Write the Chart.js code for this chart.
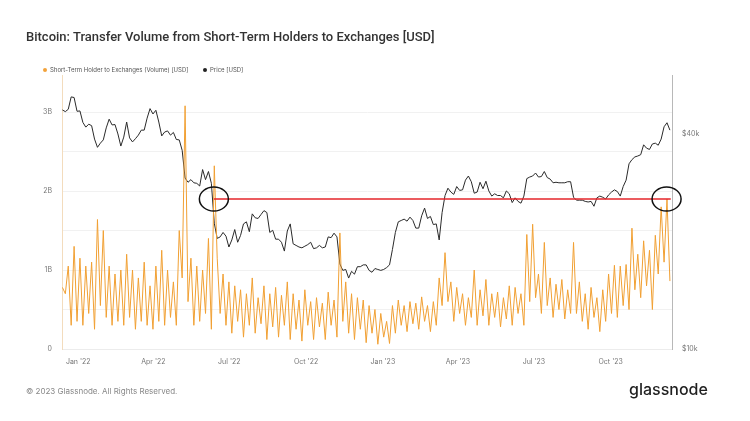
<!DOCTYPE html>
<html><head><meta charset="utf-8">
<script src="https://cdn.jsdelivr.net/npm/chart.js@4.4.0/dist/chart.umd.min.js"></script>
<style>
html,body{margin:0;padding:0;background:#fff;}
#wrap{position:relative;width:750px;height:421px;overflow:hidden;font-family:Inter,'Noto Sans',sans-serif;background:#fff;}
#c{position:absolute;left:0;top:0;}
.title{position:absolute;left:26px;top:28px;font-family:Roboto,Inter,sans-serif;font-size:13px;line-height:18px;font-weight:500;color:#333;white-space:nowrap;}
.leg{position:absolute;top:66px;font-size:6px;line-height:7px;color:#555;white-space:nowrap;}
.dot{display:inline-block;width:4px;height:4px;border-radius:50%;margin-right:3px;vertical-align:0px;}
.foot{position:absolute;left:26px;top:386px;font-size:8px;line-height:11px;color:#888;white-space:nowrap;}
.logo{position:absolute;left:629px;top:380px;font-size:16px;line-height:18px;font-weight:500;color:#1f1f1f;white-space:nowrap;}
</style></head>
<body>
<div id="wrap">
<canvas id="c" width="750" height="421"></canvas>
<div class="title">Bitcoin: Transfer Volume from Short-Term Holders to Exchanges [USD]</div>
<div class="leg" style="left:43px"><span class="dot" style="background:#f2a23a"></span>Short-Term Holder to Exchanges (Volume) [USD]</div>
<div class="leg" style="left:203px"><span class="dot" style="background:#222"></span>Price [USD]</div>
<div class="foot">© 2023 Glassnode. All Rights Reserved.</div>
<div class="logo">glassnode</div>
</div>
<script>
// ---- data: one value every 3.5 days, days counted from 1 Jan 2022 ----
const startDay = -19;
const stepDays = 3.5;
const volumeBn = [
0.78,0.70,1.05,0.30,1.30,0.35,1.15,0.30,1.05,0.45,1.10,0.25,1.64,0.55,1.50,0.40,1.05,0.30,0.95,0.35,
1.00,0.30,1.20,0.40,1.00,0.25,0.90,0.35,1.10,0.30,0.80,0.25,1.05,0.35,1.25,0.30,1.00,0.40,0.85,0.30,
1.50,0.90,3.08,0.60,1.15,0.30,1.05,0.35,1.00,0.45,1.40,0.25,2.32,1.15,0.45,0.95,0.30,0.85,0.20,0.80,
0.35,0.75,0.15,0.70,0.30,0.90,0.20,0.65,0.32,0.80,0.12,0.70,0.28,0.78,0.15,0.68,0.30,0.85,0.12,0.70,
0.25,0.62,0.10,0.75,0.30,0.60,0.12,0.65,0.28,0.58,0.12,0.72,0.30,0.62,0.15,1.47,0.35,0.85,0.20,0.70,
0.12,0.65,0.25,0.62,0.08,0.55,0.20,0.50,0.06,0.45,0.15,0.35,0.07,0.55,0.20,0.62,0.30,0.55,0.22,0.60,
0.32,0.58,0.25,0.66,0.35,0.55,0.22,0.60,0.30,0.90,0.55,1.22,0.60,0.85,0.35,0.78,0.45,0.70,0.30,0.65,
0.40,1.00,0.30,0.75,0.42,0.88,0.30,0.70,0.40,0.72,0.28,0.65,0.38,0.80,0.30,0.78,0.45,0.70,0.30,1.45,
0.60,1.58,0.65,0.95,0.45,1.35,0.55,0.90,0.40,0.82,0.50,0.88,0.38,0.75,0.45,1.35,0.45,0.85,0.35,0.70,
0.25,0.78,0.40,0.65,0.22,0.75,0.35,0.95,0.45,1.06,0.40,1.05,0.55,1.07,0.50,1.53,0.75,1.20,0.65,1.37,
0.80,1.25,0.50,1.44,0.95,1.80,1.10,1.90,0.86
];
const priceUsdK = [
// Dec 2021
46.7,46.2,46.9,50.8,50.6,46.3,
// 2022
46.4,43.1,41.8,42.6,42.2,38.7,36.7,37.7,38.5,41.6,
44.0,42.4,42.5,40.0,37.0,39.2,43.2,39.0,
38.0,38.8,39.7,41.0,41.0,44.3,47.1,45.5,
46.6,43.2,39.5,40.5,40.8,39.7,40.4,38.6,
38.5,36.0,30.1,29.3,29.8,29.2,29.1,28.6,31.8,29.8,
31.4,29.1,22.5,20.4,20.6,21.2,20.7,19.3,
20.2,21.6,19.9,20.8,22.4,22.7,21.3,23.9,
23.3,23.2,23.8,24.4,24.1,21.2,21.5,20.3,20.3,19.9,
18.8,21.4,22.4,19.7,19.5,19.3,19.2,19.4,
19.6,19.9,19.1,19.2,19.5,19.2,19.3,20.6,20.5,21.1,
20.6,17.3,16.6,16.7,15.8,16.5,16.2,17.0,
17.0,17.2,17.2,16.6,16.4,16.8,16.7,16.6,
// 2023
16.7,16.9,17.2,19.0,21.2,22.7,22.9,23.1,22.8,23.4,
22.9,21.8,21.8,23.6,24.8,23.2,23.5,22.3,
22.4,20.2,24.1,26.9,28.2,27.5,27.1,28.5,
27.8,27.9,29.7,30.5,29.4,27.3,27.5,29.3,
28.1,29.5,27.7,26.8,27.2,26.9,26.9,26.5,27.7,27.2,
25.7,26.5,25.9,25.6,26.8,30.0,30.3,30.5,
31.1,30.3,30.4,31.4,30.2,29.9,29.2,29.3,29.2,29.2,
29.2,29.4,29.4,26.6,26.1,26.1,26.1,25.9,
25.8,25.9,25.1,26.5,26.8,26.6,26.3,27.0,
27.5,27.9,27.6,26.8,28.5,29.7,33.0,33.9,34.5,34.7,
35.0,37.3,36.5,36.2,37.5,37.7,37.2,38.7,
41.9,43.0,41.0
];
const xTickDates = ['2022-01-01','2022-04-01','2022-07-01','2022-10-01','2023-01-01','2023-04-01','2023-07-01','2023-10-01'];
const xTickLabels = ["Jan '22","Apr '22","Jul '22","Oct '22","Jan '23","Apr '23","Jul '23","Oct '23"];
const volGridBn = [0,0.5,1,1.5,2,2.5,3];
const volTickBn = [0,1,2,3];
const volTickLabels = ['0','1B','2B','3B'];
const priceTickUsd = [10000,40000];
const priceTickLabels = ['$10k','$40k'];
// annotation (data units): red level line and two circled points
const redLine = {fromDay:162.5, toDay:710, levelBn:1.90};
const circles = [{day:162.5, levelBn:1.90},{day:705, levelBn:1.90}];

const dayOf = s => (Date.parse(s+'T00:00:00Z') - Date.UTC(2022,0,1))/86400000;
const volPts = volumeBn.map((v,i)=>({x:startDay+i*stepDays, y:v}));
const pricePts = priceUsdK.map((v,i)=>({x:startDay+i*stepDays, y:v*1000}));

const tickFont = {family:"Inter, 'Noto Sans', sans-serif", size:7};
const annot = {
  id:'annot',
  afterDatasetsDraw(chart){
    const ctx = chart.ctx, x = chart.scales.x, y = chart.scales.yVol;
    ctx.save();
    ctx.strokeStyle = '#e4252a'; ctx.lineWidth = 1.6;
    ctx.beginPath();
    ctx.moveTo(x.getPixelForValue(redLine.fromDay), y.getPixelForValue(redLine.levelBn));
    ctx.lineTo(x.getPixelForValue(redLine.toDay), y.getPixelForValue(redLine.levelBn));
    ctx.stroke();
    ctx.strokeStyle = '#111'; ctx.lineWidth = 1.5;
    circles.forEach(c=>{
      ctx.beginPath();
      ctx.ellipse(x.getPixelForValue(c.day), y.getPixelForValue(c.levelBn), 14.5, 12, 0, 0, Math.PI*2);
      ctx.stroke();
    });
    ctx.restore();
  }
};

new Chart(document.getElementById('c'), {
  type:'line',
  data:{datasets:[
    {label:'Short-Term Holder to Exchanges (Volume) [USD]', data:volPts, yAxisID:'yVol', borderColor:'#f1a033', borderWidth:1, pointRadius:0, tension:0, order:0},
    {label:'Price [USD]', data:pricePts, yAxisID:'yPrice', borderColor:'#2a2a2a', borderWidth:1, pointRadius:0, tension:0, order:1}
  ]},
  options:{
    responsive:false, animation:false, devicePixelRatio:1,
    layout:{padding:{top:75,left:0,right:0,bottom:0}},
    plugins:{legend:{display:false}, tooltip:{enabled:false}, title:{display:false}},
    scales:{
      x:{type:'linear', min:-19.5, max:711.5,
        afterBuildTicks(s){ s.ticks = xTickDates.map(d=>({value:dayOf(d)})); },
        afterFit(s){ s.height = 72; },
        ticks:{autoSkip:false, maxRotation:0, padding:9, color:'#777', font:tickFont,
          callback:(v,i)=>xTickLabels[i]},
        grid:{display:false, drawTicks:false},
        border:{display:true, color:'#ececec'}
      },
      yVol:{type:'linear', position:'left', min:0, max:3.47,
        afterBuildTicks(s){ s.ticks = volGridBn.map(v=>({value:v})); },
        afterFit(s){ s.width = 62; },
        ticks:{padding:10, color:'#777', font:tickFont,
          callback:(v)=>{ const k = volTickBn.indexOf(v); return k>=0 ? volTickLabels[k] : ''; }},
        grid:{color:'#f1f1f1', drawTicks:false, lineWidth:1},
        border:{display:true, color:'#f3dcbd'}
      },
      yPrice:{type:'logarithmic', position:'right', min:10000, max:58500,
        afterBuildTicks(s){ s.ticks = priceTickUsd.map(v=>({value:v})); },
        afterFit(s){ s.width = 78; },
        ticks:{padding:10, color:'#777', font:tickFont,
          callback:(v)=>{ const k = priceTickUsd.indexOf(v); return k>=0 ? priceTickLabels[k] : ''; }},
        grid:{drawOnChartArea:false, drawTicks:false},
        border:{display:true, color:'#b8b8b8'}
      }
    }
  },
  plugins:[annot]
});
</script>
</body></html>
